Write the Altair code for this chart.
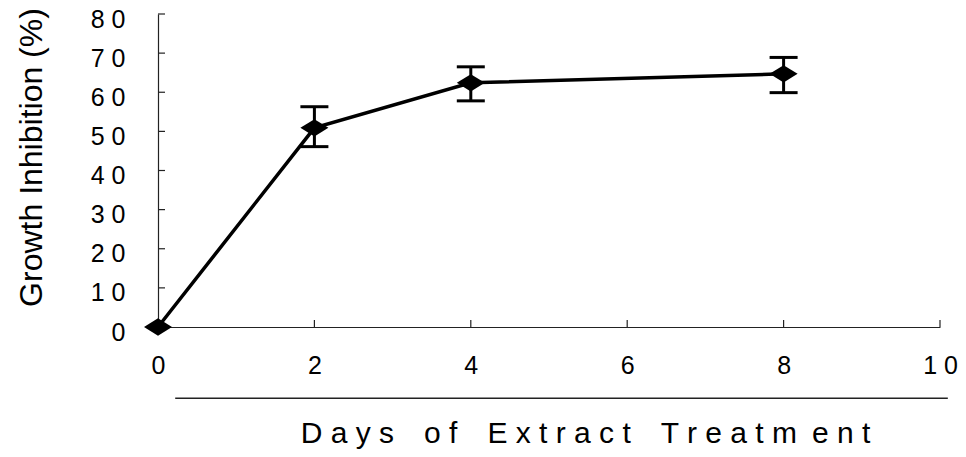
import altair as alt
import pandas as pd

# ---- data ----
days = [0, 2, 4, 8]
inhibition = [0.0, 50.9, 62.4, 64.7]
err_low = [0.0, 46.1, 57.8, 59.9]
err_high = [0.0, 56.3, 66.5, 68.9]
x_ticks = [0, 2, 4, 6, 8, 10]
y_ticks = [0, 10, 20, 30, 40, 50, 60, 70, 80]
x_title = "D a y s\u2003o f\u2003E x t r a c t\u2003T r e a t m\u2002e n t"
y_title = "Growth Inhibition (%)"
# decorative underline below the x tick labels (in data units)
under_x = [0.22, 10.1]
under_y = -18.2

df = pd.DataFrame({"day": days, "inh": inhibition, "lo": err_low, "hi": err_high})
err_df = df[df["day"] > 0]
xt_df = pd.DataFrame({"v": [t for t in x_ticks if t > 0]})
yt_df = pd.DataFrame({"v": [t for t in y_ticks if t > 0]})

FONT = "Liberation Sans"
xscale = alt.Scale(domain=[0, 10], nice=False, zero=True)
yscale = alt.Scale(domain=[0, 80], nice=False, zero=True)

xaxis = alt.Axis(
    values=x_ticks, ticks=False, grid=False, labelPadding=26, labelFont=FONT,
    labelFontSize=25, labelColor="black", labelFlush=False, labelOverlap=False,
    labelExpr="join(split(datum.label, ''), ' ')",
    domainColor="#222", domainWidth=1.2,
    title=x_title, titleFont=FONT, titleFontSize=30, titleFontWeight="normal",
    titleColor="black", titleX=427, titleY=115, titleAlign="center",
    titleBaseline="alphabetic",
)
yaxis = alt.Axis(
    values=y_ticks, ticks=False, grid=False, labelPadding=33, labelFont=FONT,
    labelFontSize=25, labelColor="black", labelOverlap=False, labelFlush=False,
    labelOffset=5,
    labelExpr="join(split(datum.label, ''), ' ')",
    domainColor="#222", domainWidth=1.2,
    title=y_title, titleFont=FONT, titleFontSize=32, titleFontWeight="normal",
    titleColor="black", titleX=-127, titleY=143, titleAngle=-90,
    titleAlign="center", titleBaseline="middle",
)

X = lambda f: alt.X(f, scale=xscale, axis=xaxis)
Y = lambda f: alt.Y(f, scale=yscale, axis=yaxis)

base = alt.Chart(df)
line = base.mark_line(color="black", strokeWidth=3.5).encode(x=X("day:Q"), y=Y("inh:Q"))

ebase = alt.Chart(err_df)
err = ebase.mark_rule(color="black", strokeWidth=3).encode(
    x=X("day:Q"), y=Y("lo:Q"), y2="hi:Q")
cap_lo = ebase.mark_tick(color="black", orient="horizontal", size=28, thickness=3, opacity=1).encode(
    x=X("day:Q"), y=Y("lo:Q"))
cap_hi = ebase.mark_tick(color="black", orient="horizontal", size=28, thickness=3, opacity=1).encode(
    x=X("day:Q"), y=Y("hi:Q"))

points = base.mark_point(
    shape="M-1,0L0,-0.62L1,0L0,0.62Z", filled=True, size=784, color="black", opacity=1
).encode(x=X("day:Q"), y=Y("inh:Q"))

# inward axis ticks
ytk = alt.Chart(yt_df).mark_rule(color="#222", strokeWidth=1.2).encode(
    x=alt.value(0), x2=alt.value(7), y=Y("v:Q"))
xtk = alt.Chart(xt_df).mark_rule(color="#222", strokeWidth=1.2).encode(
    x=X("v:Q"), y=alt.value(313), y2=alt.value(306))

under = alt.Chart(pd.DataFrame({"a": [under_x[0]], "b": [under_x[1]], "c": [under_y]})).mark_rule(
    color="#222", strokeWidth=1.5).encode(
    x=X("a:Q"), x2="b:Q", y=Y("c:Q"))

chart = alt.layer(ytk, xtk, under, line, err, cap_lo, cap_hi, points).properties(
    width=782, height=313,
    autosize=alt.AutoSizeParams(type="none"),
    padding={"left": 150, "top": 6, "right": 18, "bottom": 122},
    background="white",
).configure_view(stroke=None)

chart.save("out.html", embed_options={"renderer": "svg", "actions": False})
